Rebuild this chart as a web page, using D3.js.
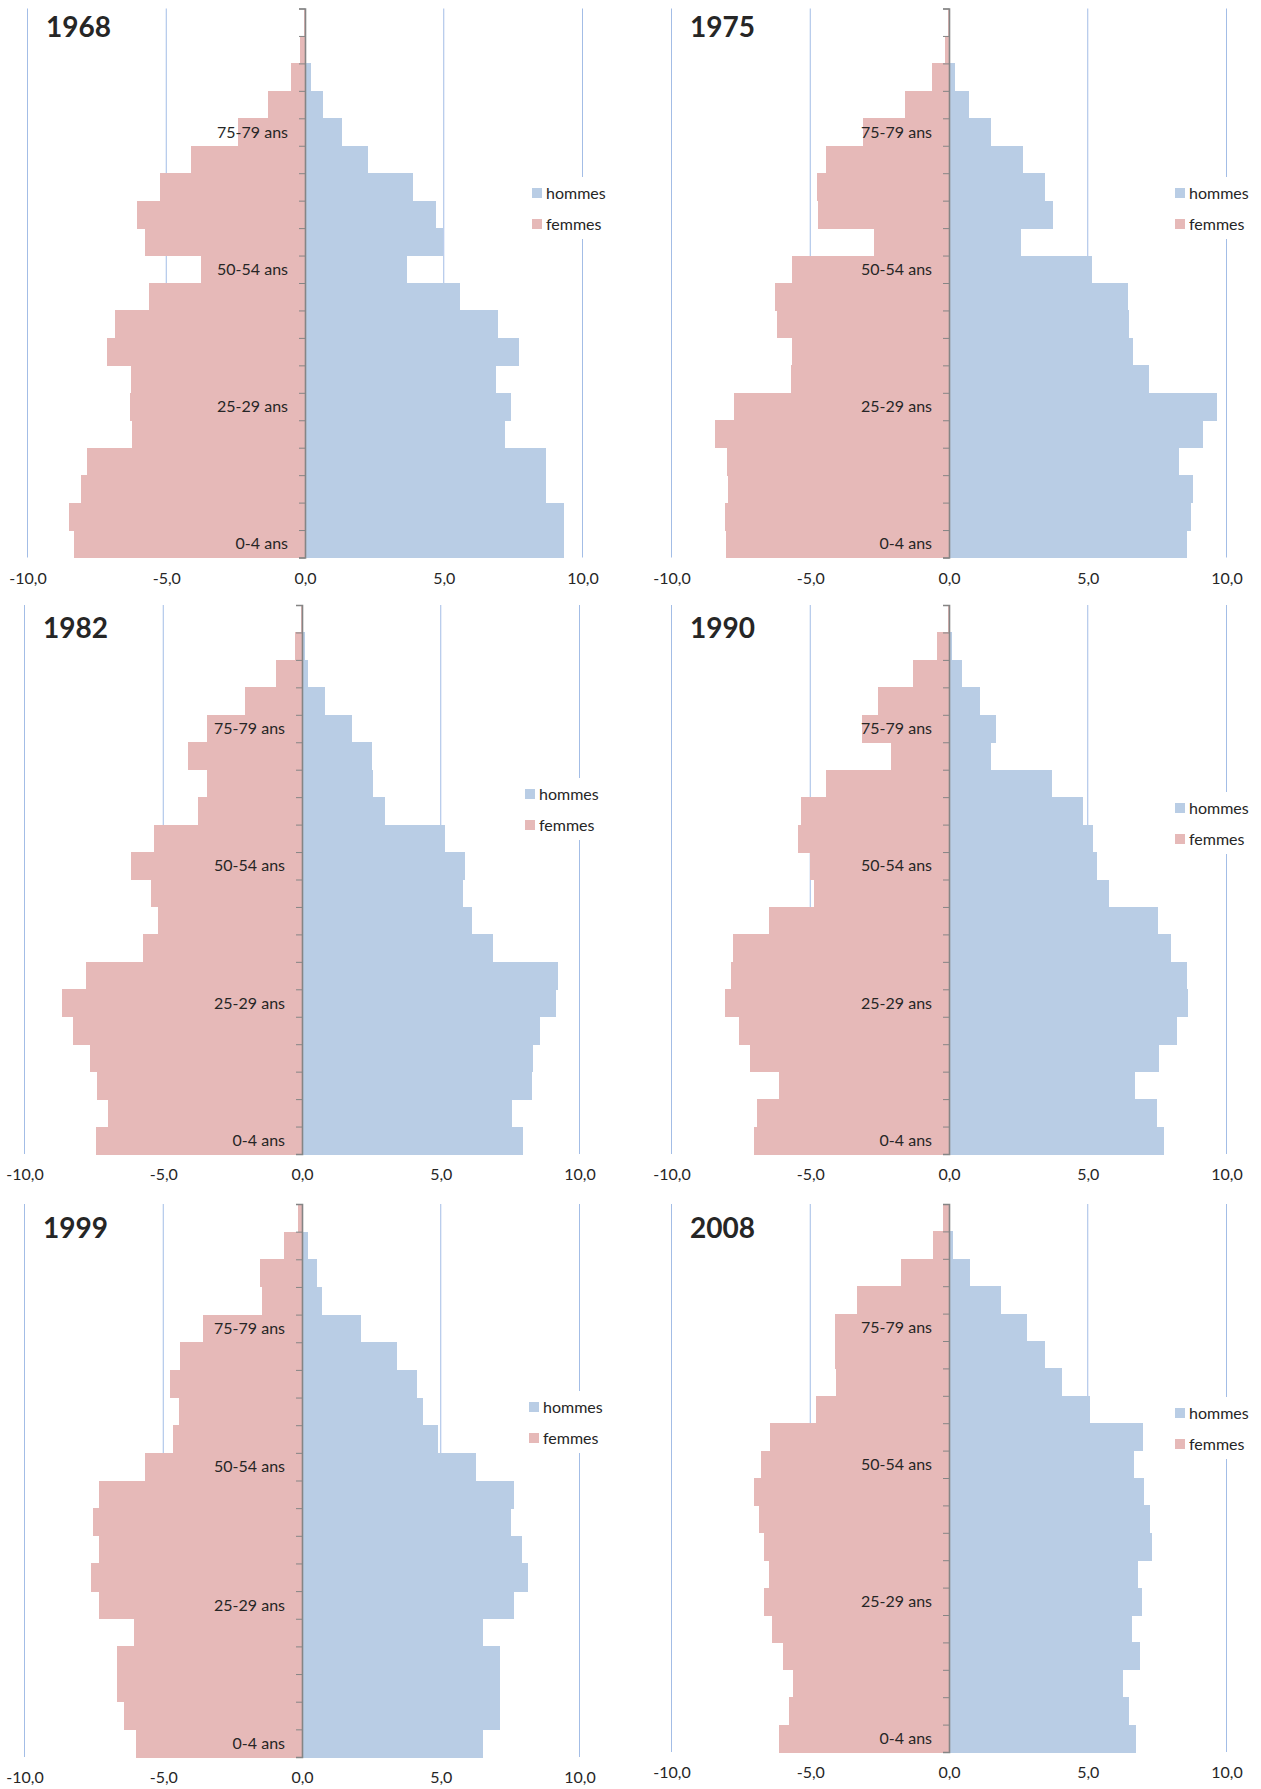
<!DOCTYPE html>
<html>
<head>
<meta charset="utf-8">
<script src="https://cdn.jsdelivr.net/npm/d3@7"></script>
<style>
  body { margin: 0; background: #fff; }
  svg { display: block; }
  text { font-family: Lato, "Open Sans", sans-serif; fill: #262626; }
</style>
</head>
<body>
<svg id="chart"></svg>
<script>
// Age groups, bottom to top (only every 5th label is shown, like the Excel original)
const ageGroups = ["0-4 ans", "5-9 ans", "10-14 ans", "15-19 ans", "20-24 ans", "25-29 ans", "30-34 ans",
    "35-39 ans", "40-44 ans", "45-49 ans", "50-54 ans", "55-59 ans", "60-64 ans", "65-69 ans",
    "70-74 ans", "75-79 ans", "80-84 ans", "85-89 ans", "90-94 ans", "95-99 ans"];
const shownAges = ["0-4 ans", "25-29 ans", "50-54 ans", "75-79 ans"];
const xTicks = [-10, -5, 0, 5, 10];
const seriesNames = ["hommes", "femmes"];

// % of population per age group (femmes drawn to the left)
const hommes1968 = [9.35, 9.35, 8.67, 8.70, 7.19, 7.41, 6.88, 7.72, 6.97, 5.59, 3.67, 4.99, 4.71, 3.90, 2.28, 1.35, 0.65, 0.22, 0.05, 0.01];
const femmes1968 = [8.33, 8.52, 8.09, 7.84, 6.22, 6.30, 6.28, 7.13, 6.83, 5.62, 3.74, 5.78, 6.04, 5.23, 4.12, 2.43, 1.33, 0.52, 0.17, 0.03];
const hommes1975 = [8.58, 8.71, 8.78, 8.29, 9.17, 9.65, 7.22, 6.62, 6.49, 6.45, 5.17, 2.61, 3.75, 3.46, 2.68, 1.51, 0.71, 0.20, 0.05, 0.01];
const femmes1975 = [8.04, 8.06, 7.96, 7.99, 8.42, 7.74, 5.70, 5.64, 6.20, 6.28, 5.64, 2.70, 4.71, 4.77, 4.43, 3.09, 1.58, 0.61, 0.16, 0.02];
const hommes1982 = [7.98, 7.57, 8.28, 8.33, 8.59, 9.16, 9.22, 6.87, 6.14, 5.79, 5.89, 5.17, 2.98, 2.56, 2.52, 1.79, 0.84, 0.23, 0.10, 0.01];
const femmes1982 = [7.43, 6.98, 7.40, 7.63, 8.24, 8.65, 7.79, 5.72, 5.18, 5.43, 6.15, 5.34, 3.76, 3.44, 4.10, 3.44, 2.04, 0.93, 0.26, 0.03];
const hommes1990 = [7.75, 7.51, 6.70, 7.58, 8.23, 8.61, 8.58, 8.01, 7.52, 5.75, 5.32, 5.19, 4.83, 3.72, 1.51, 1.68, 1.12, 0.48, 0.12, 0.02];
const femmes1990 = [7.03, 6.91, 6.12, 7.17, 7.57, 8.07, 7.84, 7.77, 6.49, 4.86, 5.00, 5.45, 5.33, 4.43, 2.09, 3.14, 2.55, 1.28, 0.42, 0.05];
const hommes1999 = [6.54, 7.14, 7.13, 7.14, 6.54, 7.64, 8.13, 7.93, 7.52, 7.64, 6.28, 4.91, 4.36, 4.14, 3.42, 2.12, 0.71, 0.54, 0.20, 0.04];
const femmes1999 = [6.00, 6.41, 6.68, 6.65, 6.04, 7.30, 7.61, 7.33, 7.54, 7.32, 5.64, 4.65, 4.42, 4.77, 4.41, 3.57, 1.43, 1.51, 0.64, 0.16];
const hommes2008 = [6.74, 6.48, 6.28, 6.90, 6.58, 6.96, 6.80, 7.30, 7.23, 7.01, 6.65, 7.00, 5.07, 4.07, 3.45, 2.80, 1.86, 0.77, 0.16, 0.04];
const femmes2008 = [6.12, 5.77, 5.62, 5.99, 6.39, 6.65, 6.48, 6.65, 6.86, 7.01, 6.78, 6.46, 4.81, 4.07, 4.12, 4.12, 3.33, 1.72, 0.58, 0.20];

const years = ["1968", "1975", "1982", "1990", "1999", "2008"];
const hommesByYear = [hommes1968, hommes1975, hommes1982, hommes1990, hommes1999, hommes2008];
const femmesByYear = [femmes1968, femmes1975, femmes1982, femmes1990, femmes1999, femmes2008];

// layout of each small chart (plot area, title, legend)
const panels = [
    { x: [27.5, 582.5], y: [8.5, 557.5], title: [46, 37], legend: [532, 193] },
    { x: [671.5, 1226.5], y: [8.5, 557.5], title: [690, 37], legend: [1175, 193] },
    { x: [24.5, 579.5], y: [605, 1154], title: [43, 638], legend: [525, 794] },
    { x: [671.5, 1226.5], y: [605, 1154], title: [690, 638], legend: [1175, 808] },
    { x: [24.5, 579.5], y: [1204, 1757], title: [43, 1238], legend: [529, 1407] },
    { x: [671.5, 1226.5], y: [1204, 1752], title: [690, 1238], legend: [1175, 1413] }
];

const COLORS = { hommes: "#b9cde5", femmes: "#e6b9b8", grid: "#a3bde6", axis: "#858585" };

const svg = d3.select("#chart").attr("width", 1261).attr("height", 1789);
const fr = d3.formatLocale({ decimal: ",", thousands: " ", grouping: [3], currency: ["", " €"], minus: "-" });
const fmt = fr.format(".1f");

years.forEach((year, i) => {
    const p = panels[i];
    const g = svg.append("g").attr("class", "panel");
    const x = d3.scaleLinear().domain([-10, 10]).range(p.x);
    const y = d3.scaleBand().domain(ageGroups).range([p.y[1], p.y[0]]).padding(0);
    const yLin = d3.scaleLinear().domain([0, ageGroups.length]).range([p.y[1], p.y[0]]);

    // vertical gridlines
    g.append("g").selectAll("line").data(xTicks).join("line")
        .attr("x1", d => x(d)).attr("x2", d => x(d))
        .attr("y1", p.y[0]).attr("y2", p.y[1])
        .attr("stroke", COLORS.grid).attr("stroke-width", 1);

    const rows = ageGroups.map((a, k) => ({ age: a, h: hommesByYear[i][k], f: femmesByYear[i][k] }));

    // femmes on the left, hommes on the right
    const bars = g.append("g").attr("shape-rendering", "crispEdges");
    bars.append("g").selectAll("rect").data(rows).join("rect")
        .attr("x", d => x(-d.f)).attr("width", d => x(0) - x(-d.f))
        .attr("y", d => y(d.age)).attr("height", y.bandwidth() + 0.5)
        .attr("fill", COLORS.femmes);
    bars.append("g").selectAll("rect").data(rows).join("rect")
        .attr("x", x(0)).attr("width", d => x(d.h) - x(0))
        .attr("y", d => y(d.age)).attr("height", y.bandwidth() + 0.5)
        .attr("fill", COLORS.hommes);

    // vertical axis with ticks between categories
    const ax = g.append("g").attr("transform", `translate(${x(0)},0)`)
        .call(d3.axisLeft(yLin).ticks(ageGroups.length).tickSize(6).tickSizeOuter(6).tickFormat(""));
    ax.selectAll("path, line").attr("stroke", COLORS.axis);
    ax.select(".domain").attr("stroke-width", 1.6);

    // category labels
    g.append("g").selectAll("text").data(shownAges).join("text")
        .attr("x", x(0) - 17).attr("y", d => y(d) + y.bandwidth() / 2)
        .attr("dy", "0.35em").attr("text-anchor", "end")
        .attr("font-size", "16px").text(d => d);

    // bottom axis labels
    const bx = g.append("g").attr("transform", `translate(0,${p.y[1]})`)
        .call(d3.axisBottom(x).tickValues(xTicks).tickSize(0).tickPadding(15).tickFormat(fmt));
    bx.select(".domain").remove();
    bx.selectAll("text").attr("font-size", "16px").attr("font-family", "Lato, 'Open Sans', sans-serif").attr("fill", "#262626");

    // title
    g.append("text").attr("x", p.title[0]).attr("y", p.title[1])
        .attr("font-size", "28px").attr("font-weight", "700").attr("fill", "#1a1a1a").text(year);

    // legend
    const lg = g.append("g").attr("transform", `translate(${p.legend[0]},${p.legend[1]})`);
    lg.append("rect").attr("x", -8).attr("y", -16).attr("width", 90).attr("height", 62).attr("fill", "#fff");
    seriesNames.forEach((s, k) => {
        lg.append("rect").attr("x", 0).attr("y", k * 31 - 5).attr("width", 10).attr("height", 10).attr("fill", COLORS[s]);
        lg.append("text").attr("x", 14).attr("y", k * 31).attr("dy", "0.35em").attr("font-size", "16px").text(s);
    });
});
</script>
</body>
</html>
